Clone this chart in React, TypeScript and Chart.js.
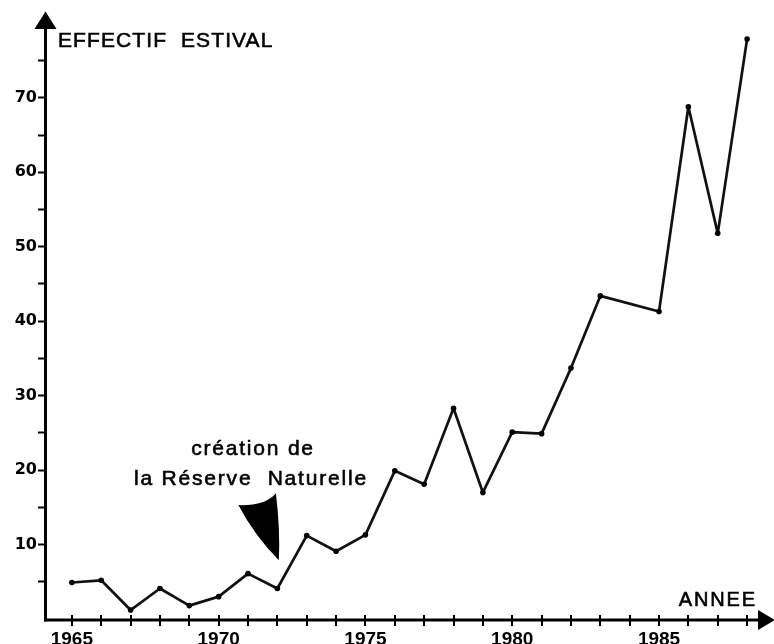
import React, { useEffect, useRef } from "react";
import { Chart, registerables } from "chart.js";

Chart.register(...registerables);

const years = [1965, 1966, 1967, 1968, 1969, 1970, 1971, 1972, 1973, 1974, 1975, 1976, 1977, 1978, 1979, 1980, 1981, 1982, 1983, 1985, 1986, 1987, 1988];
const effectif = [4.9, 5.2, 1.2, 4.1, 1.8, 3.0, 6.1, 4.1, 11.2, 9.1, 11.3, 19.9, 18.1, 28.3, 17.0, 25.1, 24.9, 33.7, 43.4, 41.3, 68.8, 51.8, 77.9];
const xLabelYears = [1965, 1970, 1975, 1980, 1985];
const yLabelValues = [10, 20, 30, 40, 50, 60, 70];
const yTitle = "EFFECTIF  ESTIVAL";
const xTitle = "ANNEE";
const noteLines = ["création de", "la Réserve  Naturelle"];

function boldText(ctx: any, t: string, x: number, y: number) {
  ctx.fillText(t, x, y);
  ctx.lineWidth = 0.6;
  ctx.strokeText(t, x, y);
}

const decor = {
  id: "decor",
  afterDraw(chart: any) {
    const { ctx, chartArea } = chart;
    const xs = chart.scales.x;
    const ys = chart.scales.y;
    const L = chartArea.left;
    const B = chartArea.bottom;
    const ax = L + 0.5;
    const ay = B + 1;
    ctx.save();
    ctx.fillStyle = "#000";
    ctx.strokeStyle = "#000";
    ctx.lineCap = "butt";
    // y axis
    ctx.lineWidth = 3;
    ctx.beginPath();
    ctx.moveTo(ax, ay + 1.5);
    ctx.lineTo(ax, 28);
    ctx.stroke();
    ctx.beginPath();
    ctx.moveTo(ax - 11, 29);
    ctx.lineTo(ax + 11, 29);
    ctx.lineTo(ax, 11.5);
    ctx.closePath();
    ctx.fill();
    // x axis
    ctx.beginPath();
    ctx.moveTo(ax - 1.5, ay);
    ctx.lineTo(760, ay);
    ctx.stroke();
    ctx.beginPath();
    ctx.moveTo(758, ay - 10);
    ctx.lineTo(758, ay + 10);
    ctx.lineTo(775, ay);
    ctx.closePath();
    ctx.fill();
    // x ticks
    ctx.lineWidth = 2;
    for (let yr = 1965; yr <= 1988; yr++) {
      const px = Math.round(xs.getPixelForValue(yr));
      ctx.beginPath();
      ctx.moveTo(px, ay - 5);
      ctx.lineTo(px, ay + 6);
      ctx.stroke();
    }
    // annotation arrow
    const P = (x: number, y: number) => [xs.getPixelForValue(x), ys.getPixelForValue(y)];
    const tl = P(1970.67, 15.3);
    const tr = P(1971.95, 16.9);
    const cp = P(1971.6, 15.2);
    const tip = P(1972.05, 7.9);
    const rc = P(1972.1, 12.0);
    const lc = P(1971.25, 11.0);
    ctx.beginPath();
    ctx.moveTo(tl[0], tl[1]);
    ctx.quadraticCurveTo(cp[0], cp[1], tr[0], tr[1]);
    ctx.quadraticCurveTo(rc[0], rc[1], tip[0], tip[1]);
    ctx.quadraticCurveTo(lc[0], lc[1], tl[0], tl[1]);
    ctx.closePath();
    ctx.fill();
    // texts
    ctx.textBaseline = "alphabetic";
    ctx.font = "21px 'Liberation Sans', Arial, sans-serif";
    (ctx as any).letterSpacing = "1.1px";
    ctx.textAlign = "left";
    boldText(ctx, yTitle, L + 13, 47);
    (ctx as any).letterSpacing = "1.9px";
    ctx.font = "20px 'Liberation Sans', Arial, sans-serif";
    const an = P(1985.67, 1.75);
    boldText(ctx, xTitle, an[0], an[1]);
    ctx.font = "21px 'Liberation Sans', Arial, sans-serif";
    (ctx as any).letterSpacing = "1.8px";
    ctx.textAlign = "center";
    const n1 = P(1971.17, 22.07);
    boldText(ctx, noteLines[0], n1[0], n1[1]);
    const n2 = P(1971.1, 18.0);
    boldText(ctx, noteLines[1], n2[0], n2[1]);
    ctx.restore();
  },
};

export default function App() {
  const ref = useRef<HTMLCanvasElement>(null);
  useEffect(() => {
    if (!ref.current) return;
    const chart = new Chart(ref.current, {
      type: "line",
      data: {
        datasets: [
          {
            data: years.map((y, i) => ({ x: y, y: effectif[i] })),
            borderColor: "#111",
            borderWidth: 2.7,
            borderJoinStyle: "round",
            pointRadius: 2.8,
            pointBackgroundColor: "#000",
            pointBorderColor: "#000",
            pointBorderWidth: 0,
            tension: 0,
            clip: false as any,
          },
        ],
      },
      options: {
        animation: false,
        responsive: false,
        devicePixelRatio: 1,
        layout: { padding: { top: 13, left: 0, right: 0, bottom: 0 } },
        plugins: { legend: { display: false }, tooltip: { enabled: false } },
        scales: {
          x: {
            type: "linear",
            min: 1964.085,
            max: 1988.78,
            grid: { display: false },
            border: { display: false },
            afterFit: (s: any) => { s.height = 25; },
            ticks: {
              stepSize: 1,
              includeBounds: false,
              autoSkip: false,
              maxRotation: 0,
              padding: 1,
              color: "#000",
              font: { family: "'Liberation Sans'", weight: "bold", size: 19 },
              callback: (v: any) => (xLabelYears.includes(Number(v)) ? String(v) : ""),
            },
          },
          y: {
            type: "linear",
            min: 0,
            max: 81.4,
            grid: { display: true, drawOnChartArea: false, drawTicks: true, tickLength: 7, tickWidth: 2, tickColor: "#000", color: "#000" },
            border: { display: false },
            afterFit: (s: any) => { s.width = 45; },
            afterBuildTicks: (s: any) => { s.ticks = s.ticks.filter((t: any) => t.value > 0 && t.value <= 75); },
            ticks: {
              stepSize: 5,
              includeBounds: false,
              autoSkip: false,
              padding: 1,
              color: "#000",
              font: { family: "'DejaVu Sans'", weight: "bold", size: 16 },
              callback: (v: any) => (yLabelValues.includes(Number(v)) ? String(v) : ""),
            },
          },
        },
      },
      plugins: [decor],
    });
    return () => chart.destroy();
  }, []);
  return (
    <div style={{ position: "fixed", left: 0, top: 0, width: 774, height: 644, background: "#fff" }}>
      <canvas ref={ref} width={774} height={644} style={{ width: 774, height: 644, display: "block" }} />
    </div>
  );
}
